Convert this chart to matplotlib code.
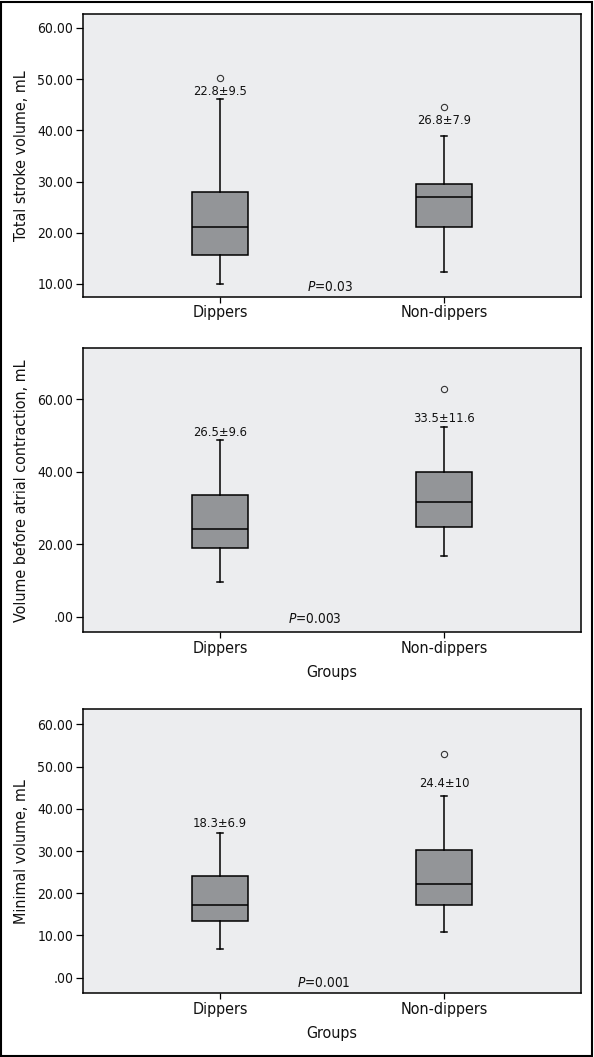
import numpy as np
import matplotlib
matplotlib.use('Agg')
import matplotlib.pyplot as plt
from matplotlib.patches import Rectangle
from matplotlib.ticker import FuncFormatter

plt.rcParams['font.family'] = ['DejaVu Sans']
plt.rcParams['font.stretch'] = 'condensed'
plt.rcParams['mathtext.fontset'] = 'dejavusans'

# ------------------------------------------------------------------ #
#  data                                     #
# ------------------------------------------------------------------ #
groups = ['Dippers', 'Non-dippers']

# total stroke volume
tsv_lo  = [10.0, 12.3]
tsv_q1  = [15.6, 21.1]
tsv_med = [21.1, 26.9]
tsv_q3  = [28.0, 29.5]
tsv_hi  = [46.1, 39.0]
tsv_out = [[50.3], [44.6]]
tsv_txt = ['22.8±9.5', '26.8±7.9']
tsv_p   = '0.03'

# volume before atrial contraction
vbac_lo  = [9.6, 16.7]
vbac_q1  = [18.9, 24.7]
vbac_med = [24.2, 31.6]
vbac_q3  = [33.5, 39.9]
vbac_hi  = [48.8, 52.4]
vbac_out = [[], [62.8]]
vbac_txt = ['26.5±9.6', '33.5±11.6']
vbac_p   = '0.003'

# minimal volume
minv_lo  = [6.7, 10.8]
minv_q1  = [13.4, 17.1]
minv_med = [17.1, 22.2]
minv_q3  = [24.2, 30.3]
minv_hi  = [34.2, 43.1]
minv_out = [[], [52.9]]
minv_txt = ['18.3±6.9', '24.4±10']
minv_p   = '0.001'

ylabels = ['Total stroke volume, mL',
           'Volume before atrial contraction, mL',
           'Minimal volume, mL']

# ------------------------------------------------------------------ #
#  layout                                                            #
# ------------------------------------------------------------------ #
W, H = 594, 1057
panels = [
    # panel edges in px, y range, ticks, stat-label y, P position
    dict(top=14, bot=297, ylim=(7.46, 62.73), ticks=np.arange(10, 61, 10),
         txt_y=[47.5, 42.0], p_xy=(1.387, 9.36), xlabel=False),
    dict(top=348.3, bot=632.3, ylim=(-4.22, 74.06), ticks=np.arange(0, 61, 20),
         txt_y=[50.8, 54.7], p_xy=(1.305, -0.64), xlabel=True),
    dict(top=709.3, bot=993.3, ylim=(-3.69, 63.55), ticks=np.arange(0, 61, 10),
         txt_y=[36.6, 46.0], p_xy=(1.345, -1.2), xlabel=True),
]
series = [
    (tsv_lo, tsv_q1, tsv_med, tsv_q3, tsv_hi, tsv_out, tsv_txt, tsv_p),
    (vbac_lo, vbac_q1, vbac_med, vbac_q3, vbac_hi, vbac_out, vbac_txt, vbac_p),
    (minv_lo, minv_q1, minv_med, minv_q3, minv_hi, minv_out, minv_txt, minv_p),
]

BG = '#ECEDEF'
BOX = '#939598'
INK = '#111111'


def fmt(v, pos):
    s = f'{v:.2f}'
    return s[1:] if s.startswith('0') else s


fig = plt.figure(figsize=(W / 100, H / 100), dpi=100)
fig.patch.set_facecolor('white')

left, right = 83 / W, 580.6 / W
positions = [1, 2]

for i, (lay, ser) in enumerate(zip(panels, series)):
    lo, q1, med, q3, hi, out, txt, pval = ser
    ax = fig.add_axes([left, 1 - lay['bot'] / H, right - left,
                       (lay['bot'] - lay['top']) / H])
    ax.set_facecolor(BG)

    stats = []
    for k in range(len(groups)):
        stats.append(dict(med=med[k], q1=q1[k], q3=q3[k],
                          whislo=lo[k], whishi=hi[k], fliers=out[k]))

    ax.bxp(stats, positions=positions, widths=0.25, capwidths=0.027,
           patch_artist=True, showfliers=True,
           boxprops=dict(facecolor=BOX, edgecolor='black', linewidth=1.1),
           medianprops=dict(color='black', linewidth=1.1),
           whiskerprops=dict(color='black', linewidth=1.1),
           capprops=dict(color='black', linewidth=1.1),
           flierprops=dict(marker='o', markersize=4.5, markerfacecolor='none',
                           markeredgecolor='#333333', markeredgewidth=0.8))

    for k in range(len(groups)):
        ax.text(positions[k], lay['txt_y'][k], txt[k], ha='center',
                va='center', fontsize=9.3, color=INK)

    ax.text(lay['p_xy'][0], lay['p_xy'][1], r'$\it{P}$=' + pval,
            ha='left', va='center', fontsize=9.8, color=INK)

    ax.set_xlim(0.388, 2.61)
    ax.set_ylim(*lay['ylim'])
    ax.set_xticks(positions)
    ax.set_xticklabels(groups, fontsize=11.5, color=INK)
    ax.set_yticks(lay['ticks'])
    ax.yaxis.set_major_formatter(FuncFormatter(fmt))
    ax.tick_params(axis='y', direction='out', length=5, width=0.9,
                   pad=2, labelsize=10, labelcolor=INK)
    ax.tick_params(axis='x', direction='out', length=4.5, width=0.9,
                   pad=1.5)
    for sp in ax.spines.values():
        sp.set_linewidth(1.1)

    ax.set_ylabel(ylabels[i], fontsize=11.5, color=INK)
    ax.yaxis.set_label_coords(-0.108, 0.5)
    if lay['xlabel']:
        ax.set_xlabel('Groups', fontsize=11.5, color=INK)
        ax.xaxis.set_label_coords(0.5, -0.115)

# outer frame of the whole figure
fig.add_artist(Rectangle((0.002, 0.001), 0.995, 0.997,
                         transform=fig.transFigure, fill=False,
                         edgecolor='black', linewidth=1.5))

fig.savefig('out.png', dpi=100)
